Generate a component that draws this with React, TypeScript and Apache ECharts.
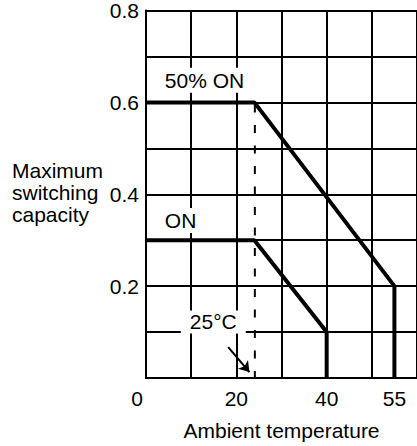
import React, { useEffect, useRef } from "react";
import * as echarts from "echarts";

const xTickLabels = [0, 20, 40, 55];
const yTickLabels = [0.2, 0.4, 0.6, 0.8];
const halfOnSeries: [number, number][] = [[0, 0.6], [24, 0.6], [55, 0.2], [55, 0]];
const onSeries: [number, number][] = [[0, 0.3], [24, 0.3], [40, 0.1], [40, 0]];
const refLine: [number, number][] = [[24.1, 0], [24.1, 0.6]];
const arrowFrom: [number, number] = [18.2, 0.067];
const arrowTo: [number, number] = [22.9, 0.013];
const labelHalfOn: [number, number] = [3.5, 0.648];
const labelOn: [number, number] = [3.5, 0.343];
const label25: [number, number] = [14.9, 0.122];

const FONT = "Liberation Sans, Arial, Helvetica, sans-serif";

export default function App() {
  const ref = useRef<HTMLDivElement>(null);
  useEffect(() => {
    document.body.style.margin = "0";
    const chart = echarts.init(ref.current!, null, { renderer: "svg" });
    const txt = { fontFamily: FONT, fontSize: 21, color: "#000" };
    const boxLabel = (pad: number[]) => ({
      show: true,
      position: [0, 0],
      align: "left",
      verticalAlign: "middle",
      backgroundColor: "#fff",
      padding: pad,
      ...txt,
    });
    chart.setOption({
      animation: false,
      backgroundColor: "#fff",
      grid: { left: 146, top: 10, width: 277, height: 368 },
      xAxis: {
        type: "value",
        min: 0,
        max: 60,
        interval: 10,
        name: "Ambient temperature",
        nameLocation: "middle",
        nameGap: 42,
        nameTextStyle: { ...txt },
        axisLine: { show: true, onZero: false, lineStyle: { color: "#000", width: 2 } },
        axisTick: { show: false },
        splitLine: { show: true, lineStyle: { color: "#000", width: 2 } },
        axisLabel: {
          customValues: xTickLabels,
          margin: 10,
          ...txt,
          formatter: (v: number) => (v === 0 ? "{z|0}" : String(v)),
          rich: { z: { ...txt, padding: [0, 18, 0, 0] } },
        },
      },
      yAxis: {
        type: "value",
        min: 0,
        max: 0.8,
        interval: 0.1,
        axisLine: { show: true, lineStyle: { color: "#000", width: 2 } },
        axisTick: { show: false },
        splitLine: { show: true, lineStyle: { color: "#000", width: 2 } },
        axisLabel: {
          customValues: yTickLabels,
          margin: 7,
          ...txt,
          formatter: (v: number) => v.toFixed(1),
        },
      },
      graphic: [
        {
          type: "text",
          left: 12,
          top: 159,
          style: {
            text: "Maximum\nswitching\ncapacity",
            font: `21px ${FONT}`,
            fill: "#000",
            lineHeight: 22,
          },
        },
      ],
      series: [
        {
          type: "line",
          data: refLine,
          symbol: "none",
          lineStyle: { color: "#000", width: 2, type: [8, 12.5], dashOffset: 1 },
          z: 3,
          markLine: {
            silent: true,
            symbol: ["none", "arrow"],
            symbolSize: 10,
            label: { show: false },
            lineStyle: { color: "#000", width: 2, type: "solid" },
            data: [[{ coord: arrowFrom }, { coord: arrowTo }]],
          },
        },
        {
          type: "line",
          data: halfOnSeries,
          symbol: "none",
          lineStyle: { color: "#000", width: 4 },
          z: 4,
          markPoint: {
            symbol: "circle",
            symbolSize: 0,
            data: [
              { coord: labelHalfOn, label: { ...boxLabel([2, 3]), formatter: "50% ON" } },
              { coord: labelOn, label: { ...boxLabel([2, 3]), formatter: "ON" } },
              {
                coord: label25,
                label: { ...boxLabel([1, 9]), align: "center", formatter: "25°C" },
              },
            ],
          },
        },
        {
          type: "line",
          data: onSeries,
          symbol: "none",
          lineStyle: { color: "#000", width: 4 },
          z: 4,
        },
      ],
    });
    return () => chart.dispose();
  }, []);
  return <div ref={ref} style={{ width: 417, height: 446 }} />;
}
